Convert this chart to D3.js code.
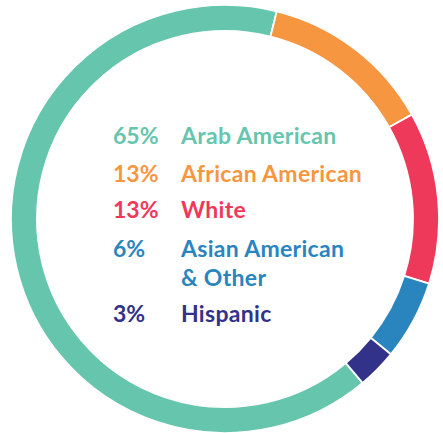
<!DOCTYPE html>
<html>
<head>
<meta charset="utf-8">
<script src="https://cdn.jsdelivr.net/npm/d3@7"></script>
<style>
  html, body { margin: 0; padding: 0; background: #fff; }
  svg text { font-family: Lato, "Open Sans", sans-serif; font-weight: 700; }
</style>
</head>
<body>
<div id="chart"></div>
<script>
// Chart data
const groups = ['Arab American', 'African American', 'White', 'Asian American & Other', 'Hispanic'];
const shares = [65, 13, 13, 6, 3];
const labelLines = [['Arab American'], ['African American'], ['White'], ['Asian American', '& Other'], ['Hispanic']];
const colors = ['#66c5ad', '#f79641', '#ef395a', '#2a85bf', '#33328a'];

const width = 443, height = 433;
const cx = 225, cy = 219;
const outerR = 214, innerR = 188;

const svg = d3.select('#chart')
    .append('svg')
    .attr('width', width)
    .attr('height', height);

const g = svg.append('g')
    .attr('transform', `translate(${cx},${cy})`);

// Rotate so the Arab American slice ends just right of 12 o'clock
const start = -220 * Math.PI / 180;
const pie = d3.pie()
    .sort(null)
    .value(d => d)
    .startAngle(start)
    .endAngle(start + 2 * Math.PI);

const arc = d3.arc()
    .innerRadius(innerR)
    .outerRadius(outerR);

g.selectAll('path.slice')
    .data(pie(shares))
    .enter()
    .append('path')
    .attr('class', 'slice')
    .attr('d', arc)
    .attr('fill', (d, i) => colors[i])
    .attr('stroke', '#fff')
    .attr('stroke-width', 1.8);

// Legend in the middle
const rowStep = [0, 38, 74, 113, 178];
const legend = svg.append('g');

groups.forEach((name, i) => {
    const baseY = 144 + rowStep[i];
    legend.append('text')
        .attr('x', 113)
        .attr('y', baseY)
        .attr('fill', colors[i])
        .style('font-size', '23px')
        .text(shares[i] + '%');

    labelLines[i].forEach((line, j) => {
        legend.append('text')
            .attr('x', 181)
            .attr('y', baseY + j * 29)
            .attr('fill', colors[i])
            .style('font-size', '23px')
            .style('letter-spacing', '0.3px')
            .text(line);
    });
});
</script>
</body>
</html>
